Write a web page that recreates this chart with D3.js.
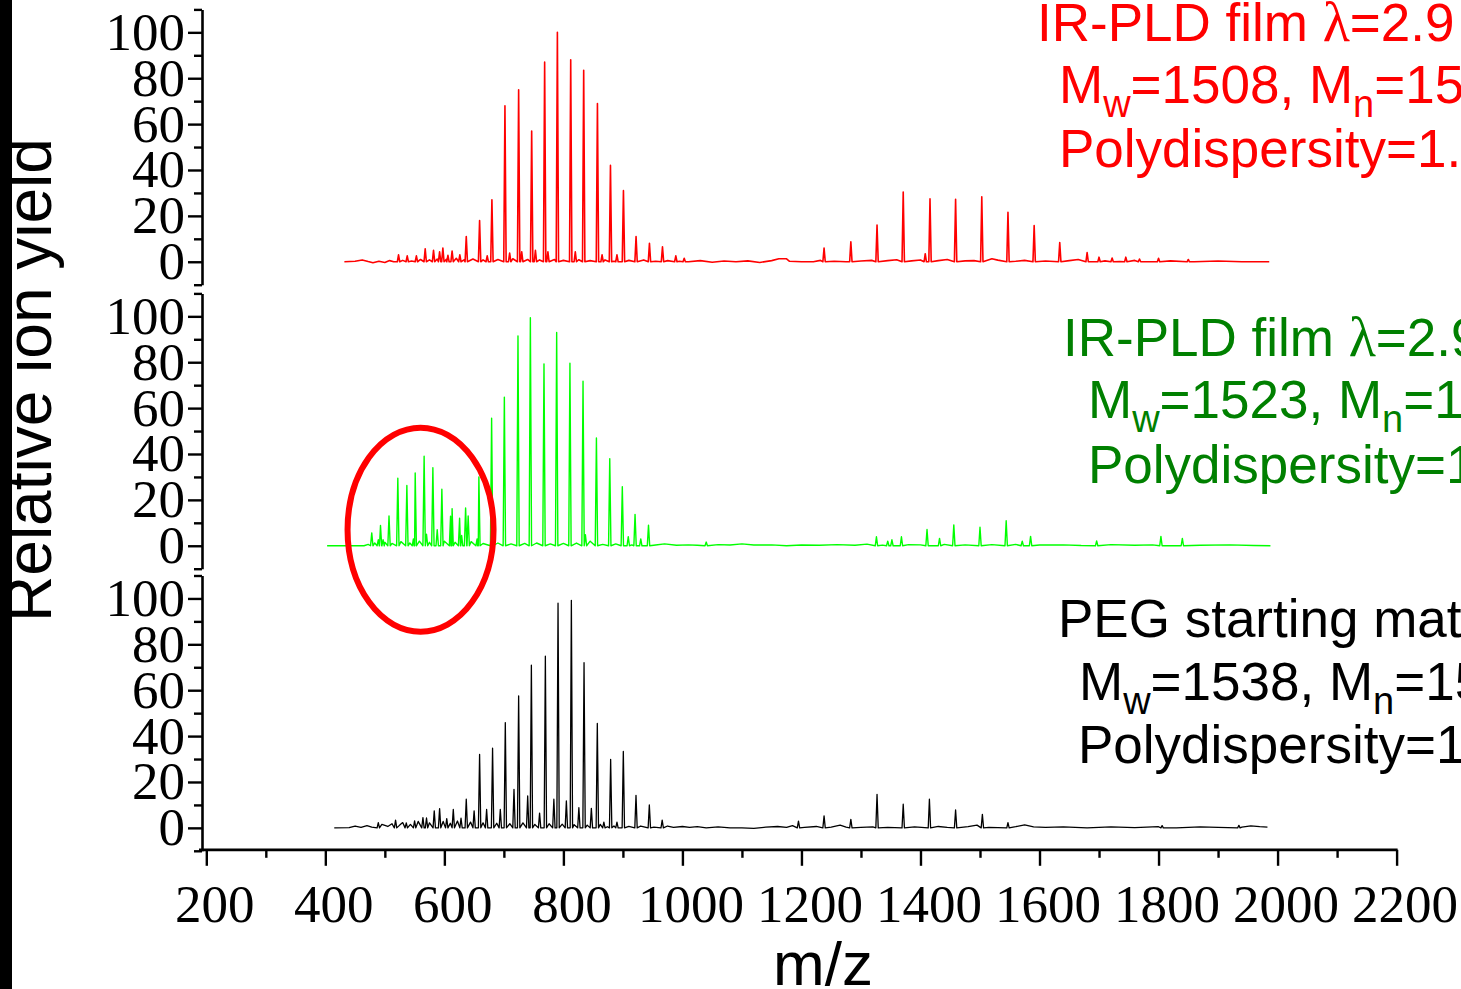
<!DOCTYPE html>
<html><head><meta charset="utf-8">
<script src="https://cdn.jsdelivr.net/npm/d3@7"></script>
<style>html,body{margin:0;padding:0;background:#fff;overflow:hidden}</style>
</head><body>
<svg id="chart" width="1461" height="989"></svg>
<script>
// ---------------- DATA ----------------
const xTicks = [200,400,600,800,1000,1200,1400,1600,1800,2000,2200];
const xMinorTicks = [300,500,700,900,1100,1300,1500,1700,1900,2100];
const yTicks = [0,20,40,60,80,100];
const yMinorTicks = [-10,10,30,50,70,90,110];
const xTitle = "m/z";
const yTitle = "Relative ion yield";

// panel labels (visible part; "_x" marks a subscript)
const redLabel   = ["IR-PLD film λ=2.9", "M_w=1508, M_n=15", "Polydispersity=1."];
const greenLabel = ["IR-PLD film λ=2.9", "M_w=1523, M_n=1", "Polydispersity=1"];
const blackLabel = ["PEG starting mat", "M_w=1538, M_n=15", "Polydispersity=1"];

// peaks [m/z, relative intensity]
const redPeaks = [
 [523,3],[537.6,2.6],[553,2.6],[567.8,5.6],[581.8,5],[592,4.3],[597.5,6],[606,2.8],[613,4.7],[626,3],
 [636.8,11],[659.2,18],[672,2.6],[679.9,27],[701.8,68],[709.7,3.8],[724.8,75],[730,4.3],[746.7,57],[753,5],
 [768.5,87],[774,4.3],[789.9,100],[812.3,88],[820,4.3],[834.1,83.5],[857.2,69],[865,3],[879.1,42],[890,3],
 [900.9,31],[922.1,11],[944.6,8],[966.5,6.5],[988.9,2.6],[1003,1.5],
 [1238,6],[1283,8.7],[1327,16],[1371,30.4],[1408,3.5],[1416,27.4],[1459,27.2],[1503,28.3],[1547,21.6],
 [1591,15.8],[1634,8.4],[1680,4],[1700,2],[1722,1.6],[1745,2],[1768,1.2],[1800,1.5],[1850,1]
];
const redBaseline = [
 [432,0],[450,0.2],[462,0.8],[472,0.1],[480,-0.4],[490,0.2],[500,-0.3],[508,0.5],[515,0],[530,0.6],
 [545,0.3],[560,1.0],[575,0.8],[588,1.2],[603,1.0],[620,1.5],[633,0.8],[648,1.2],[665,0.8],[690,1.0],
 [715,1.3],[740,1.0],[760,0.8],[785,1.0],[800,0.6],[826,0.9],[845,0.5],[870,0.8],[885,0.2],[910,0.6],
 [935,0.8],[955,0.2],[975,0.5],[995,0.2],[1010,0],[1030,0.5],[1050,-0.2],[1070,0.3],[1090,0],[1110,0.4],
 [1130,-0.3],[1150,0.5],[1162,1.3],[1175,1.3],[1180,0.2],[1200,0],[1220,0],[1232,0.6],[1255,0.2],[1275,0],
 [1300,0.3],[1318,0.6],[1345,0.5],[1360,0.9],[1385,0.4],[1400,0.8],[1430,0.5],[1445,1.0],[1475,0.4],[1490,0.5],
 [1520,1.3],[1530,0.7],[1560,0.2],[1575,0.6],[1610,0.3],[1650,0.5],[1665,1.0],[1710,0.4],[1735,0.1],[1760,0.6],
 [1790,0],[1820,0.4],[1860,0],[1900,0.3],[1940,0],[1986,0]
];

const greenPeaks = [
 [478,5.6],[489,2.6],[492.7,8.8],[497,2.6],[507,13],[521.8,29.4],[537,26.3],[548,3],[551,31.7],[566,39],
 [570,5],[580.7,34],[588,7],[595.8,24.6],[610.4,12.9],[613,16.2],[625.6,12],[629,4.5],[635.7,16.5],[640,13],
 [655,3],[658,30],[679.4,55.6],[700.8,64.8],[723.7,91.5],[744.5,99.4],[767.4,79.3],[788.7,93],[811,79.6],
 [833,71.7],[837,4.8],[855.5,47],[877.9,38],[899,25.7],[909,4],[920.4,13.7],[930,3],[943,9],[1040,1.6],
 [1326,3.9],[1345,2],[1352,2.6],[1368,3.9],[1411,7.1],[1432,3.2],[1456,9.1],[1500,8.1],[1544,10.9],[1571,2],
 [1585,4.1],[1696,2.1],[1804,4.1],[1840,3.2]
];
const greenBaseline = [
 [403,0],[440,0],[465,0],[472,0.6],[483,1.2],[500,1.5],[512,1.0],[527,1.8],[542,1.2],[558,2.0],
 [575,1.5],[600,2.0],[618,1.5],[645,1.8],[665,1.0],[690,1.2],[712,0.8],[735,1.0],[755,1.2],[778,0.8],
 [800,1.0],[822,1.2],[845,2.0],[866,0.6],[888,0.8],[915,0.4],[955,0.3],[970,0.8],[990,0.2],[1010,0.4],
 [1025,0.2],[1060,0.5],[1080,0.3],[1100,0.8],[1120,0.3],[1150,0.4],[1175,0],[1200,0.3],[1230,0.2],[1260,0.5],
 [1290,0.2],[1310,0.7],[1336,0.3],[1380,0.5],[1400,0.4],[1440,0.6],[1475,0.4],[1520,0.5],[1560,0.6],[1600,0.3],
 [1640,0.4],[1670,0.1],[1720,0.5],[1760,0.2],[1790,0.4],[1870,0.2],[1920,0.4],[1960,0.1],[1988,0]
];

const blackPeaks = [
 [489,2.3],[518,3.4],[536,2.2],[550,3],[564,4.5],[570,4.3],[583,7.4],[592,8.4],[604,4],[615,8],
 [628,4.2],[636.8,12.5],[650,7.4],[659.2,32],[671,8],[681,34.7],[694,8],[702.4,45.9],[717,16.8],[724.8,57.5],
 [740,13.9],[746.2,70.9],[760,6.4],[769.7,74.8],[784,12.5],[791,97.9],[805,11.7],[813.4,99.2],[826,8.8],
 [834.7,72],[847,8.5],[857,45.5],[868,2.5],[879.4,29.8],[890,2.5],[900.7,33.3],[922,14.2],[944.4,10],[966,3.4],
 [1195,2.9],[1238,5.2],[1283,3.7],[1327,14.6],[1371,10.3],[1415,12.5],[1459,7.8],[1504,5.9],[1547,2.3],
 [1806,1],[1935,1.1]
];
const blackBaseline = [
 [415,0],[440,0.1],[450,0.8],[460,0.2],[470,1.0],[478,0.3],[495,1.5],[505,0.6],[512,1.8],[525,1.2],
 [530,2.3],[543,1.5],[556,2.8],[575,2.2],[598,2.8],[610,2.0],[622,3.0],[644,2.5],[665,2.2],[688,2.0],
 [710,1.8],[732,2.2],[752,1.5],[776,1.8],[798,1.6],[818,1.4],[840,1.2],[862,1.5],[874,0.5],[885,0.8],
 [910,0.6],[930,0.8],[952,0.3],[975,0.8],[985,0.2],[1000,0.6],[1012,0.2],[1025,0.5],[1040,0],[1060,0.4],
 [1080,0],[1100,0],[1120,-0.2],[1140,0.3],[1160,0.6],[1175,0.2],[1185,1.0],[1205,0.2],[1225,0.6],[1250,0.3],
 [1265,1.2],[1275,0.3],[1300,0.2],[1320,0.4],[1345,0.2],[1390,0.4],[1430,0.6],[1445,0.2],[1480,0.5],[1495,1.2],
 [1515,0.2],[1560,0.5],[1575,1.3],[1590,0.4],[1610,0.2],[1640,0.4],[1680,0],[1720,0.4],[1760,0.1],[1800,0.5],
 [1830,0],[1870,0.4],[1900,0.2],[1940,0.3],[1955,0.9],[1970,0.5],[1983,0.3]
];

// ---------------- LAYOUT ----------------
const svg = d3.select("#chart");
const W = 1461, H = 989;
const axisX = 202;
const x = d3.scaleLinear().domain([200, 2200]).range([206.3, 1396.6]);
const panelH = 275.3;
const panelTops = [9.4, 293.4, 575.5];
const serif = "'Liberation Serif','Times New Roman',serif";
const sans = "'Liberation Sans',Arial,sans-serif";

const panels = [
  {peaks: redPeaks, base: redBaseline, color: "#ff0000", lw: 1.6, label: redLabel, labelColor: "#ff0000",
   lx: [1037, 1059, 1059], ly: [41, 103, 167]},
  {peaks: greenPeaks, base: greenBaseline, color: "#00ff00", lw: 1.4, label: greenLabel, labelColor: "#008000",
   lx: [1063, 1088, 1088], ly: [356, 418, 483]},
  {peaks: blackPeaks, base: blackBaseline, color: "#000000", lw: 1.3, label: blackLabel, labelColor: "#000000",
   lx: [1058, 1079, 1078], ly: [637, 700, 763]}
];

const halfW = 2.0; // peak half-width in m/z units (drawing)

panels.forEach((p, i) => {
  const top = panelTops[i];
  const y = d3.scaleLinear().domain([-10, 110]).range([top + panelH, top]);
  const pts = [];
  p.base.forEach(b => {
    if (!p.peaks.some(pk => Math.abs(pk[0] - b[0]) < 2.8)) pts.push(b);
  });
  p.peaks.forEach(pk => {
    pts.push([pk[0] - halfW, 0]);
    pts.push([pk[0], pk[1]]);
    pts.push([pk[0] + halfW, 0]);
  });
  pts.sort((a, b) => a[0] - b[0]);
  const line = d3.line().x(d => x(d[0])).y(d => y(d[1]));
  svg.append("path").datum(pts).attr("d", line)
    .attr("fill", "none").attr("stroke", p.color).attr("stroke-width", p.lw)
    .attr("stroke-linejoin", "round");

  // y axis
  const gMaj = svg.append("g").attr("transform", `translate(${axisX},0)`)
    .call(d3.axisLeft(y).tickValues(yTicks).tickSize(14).tickSizeOuter(0).tickPadding(3));
  gMaj.select(".domain").attr("stroke", "#000").attr("stroke-width", 2.6);
  gMaj.selectAll(".tick line").attr("stroke", "#000").attr("stroke-width", 2.4);
  gMaj.selectAll(".tick text").attr("font-family", serif).attr("font-size", 53).attr("fill", "#000");
  const gMin = svg.append("g").attr("transform", `translate(${axisX},0)`)
    .call(d3.axisLeft(y).tickValues(yMinorTicks).tickSize(8).tickSizeOuter(0).tickFormat(""));
  gMin.select(".domain").remove();
  gMin.selectAll(".tick line").attr("stroke", "#000").attr("stroke-width", 2.4);

  // label
  const t = svg.append("g").attr("fill", p.labelColor).attr("font-family", sans).attr("font-size", 53);
  p.label.forEach((ln, k) => {
    const txt = t.append("text").attr("x", p.lx[k]).attr("y", p.ly[k]);
    const parts = ln.split(/_(\w)/);
    let shifted = false;
    parts.forEach((seg, j) => {
      if (j % 2 === 1) {
        txt.append("tspan").attr("font-size", 38).attr("dy", 14).text(seg);
        shifted = true;
      } else {
        const sub = seg.split(/(λ)/);
        sub.forEach(s => {
          if (s === "") return;
          const ts = txt.append("tspan").text(s);
          if (shifted) { ts.attr("dy", -14); shifted = false; }
          if (s === "λ") ts.attr("font-family", serif).attr("font-size", 56);
        });
      }
    });
  });
});

// x axis at bottom
const xAxisY = panelTops[2] + panelH - 1;
const gx = svg.append("g").attr("transform", `translate(0,${xAxisY})`)
  .call(d3.axisBottom(x).tickValues(xTicks).tickSize(16).tickSizeOuter(0).tickFormat(d3.format("d")));
gx.select(".domain").remove();
gx.selectAll(".tick line").attr("stroke", "#000").attr("stroke-width", 2.4);
gx.selectAll(".tick text").attr("font-family", serif).attr("font-size", 53).attr("fill", "#000")
  .attr("dy", 0).attr("y", 72).attr("x", 8);
const gx2 = svg.append("g").attr("transform", `translate(0,${xAxisY})`)
  .call(d3.axisBottom(x).tickValues(xMinorTicks).tickSize(8).tickSizeOuter(0).tickFormat(""));
gx2.select(".domain").remove();
gx2.selectAll(".tick line").attr("stroke", "#000").attr("stroke-width", 2.4);
svg.append("line").attr("x1", axisX - 3).attr("x2", x(2200) + 1).attr("y1", xAxisY).attr("y2", xAxisY)
  .attr("stroke", "#000").attr("stroke-width", 2.8);

// axis titles
svg.append("text").attr("x", 823).attr("y", 985).attr("text-anchor", "middle")
  .attr("font-family", sans).attr("font-size", 62).attr("fill", "#000").text(xTitle);
svg.append("text").attr("transform", "translate(51,380) rotate(-90)").attr("text-anchor", "middle")
  .attr("font-family", sans).attr("font-size", 64).attr("fill", "#000").text(yTitle);

// highlight ellipse on the middle spectrum
const yMid = d3.scaleLinear().domain([-10, 110]).range([panelTops[1] + panelH, panelTops[1]]);
svg.append("ellipse").attr("cx", x(560)).attr("cy", yMid(7)).attr("rx", 73).attr("ry", 102)
  .attr("fill", "none").attr("stroke", "#ff0000").attr("stroke-width", 6);

// black bar at the left edge
svg.append("rect").attr("x", 0).attr("y", 0).attr("width", 12).attr("height", H).attr("fill", "#000");
</script>
</body></html>
